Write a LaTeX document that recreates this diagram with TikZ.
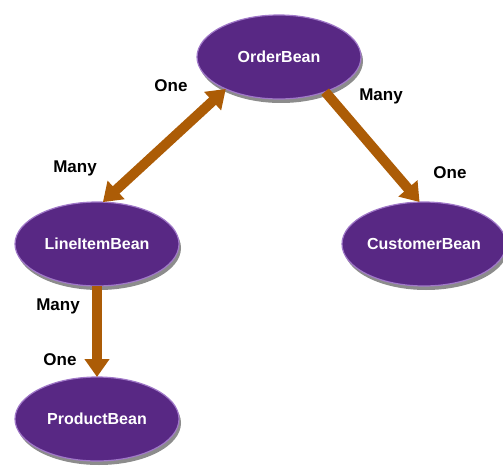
\documentclass[tikz,border=0pt]{standalone}
\usepackage{fontspec}
\setmainfont{Liberation Sans}
\usetikzlibrary{shapes.geometric,arrows.meta,shadows}
\definecolor{beanpurple}{RGB}{88,40,132}
\definecolor{beanrim}{RGB}{160,120,200}
\definecolor{arrowbrown}{RGB}{172,92,6}
\tikzset{
  bean/.style={ellipse, fill=beanpurple, draw=beanrim, line width=1.2pt,
    minimum width=164pt, minimum height=84pt, inner sep=0pt, outer sep=0pt,
    text=white, font=\bfseries\fontsize{16}{18}\selectfont,
    drop shadow={shadow xshift=2pt, shadow yshift=-4pt, opacity=0.6, fill=black!75}},
  mult/.style={font=\bfseries\fontsize{17}{19}\selectfont, text=black, inner sep=0pt},
  rel/.style={draw=arrowbrown, line width=10pt,
    -{Triangle[width=24pt,length=18pt,fill=arrowbrown]}},
  relboth/.style={draw=arrowbrown, line width=10pt,
    {Triangle[width=24pt,length=18pt,fill=arrowbrown]}-{Triangle[width=24pt,length=18pt,fill=arrowbrown]}}
}
\begin{document}
\begin{tikzpicture}[x=1pt,y=-1pt]
\useasboundingbox (0,0) rectangle (503,468);
\node[bean] (ob) at (279,57) {OrderBean};
\node[bean] (li) at (97,244) {LineItemBean};
\node[bean] (cb) at (424,244) {CustomerBean};
\node[bean] (pb) at (97,419) {ProductBean};

\draw[relboth] (ob.211) -- (li.82);
\draw[rel] (ob.323) -- (cb.96);
\draw[rel] (li.south) -- (pb.north);

\node[mult] (l1) at (171,86) {One};
\node[mult] (l2) at (75,168) {Many};
\node[mult] (l3) at (381,96) {Many};
\node[mult] (l4) at (450,173) {One};
\node[mult] (l5) at (58,306) {Many};
\node[mult] (l6) at (60,360) {One};
\end{tikzpicture}
\end{document}
